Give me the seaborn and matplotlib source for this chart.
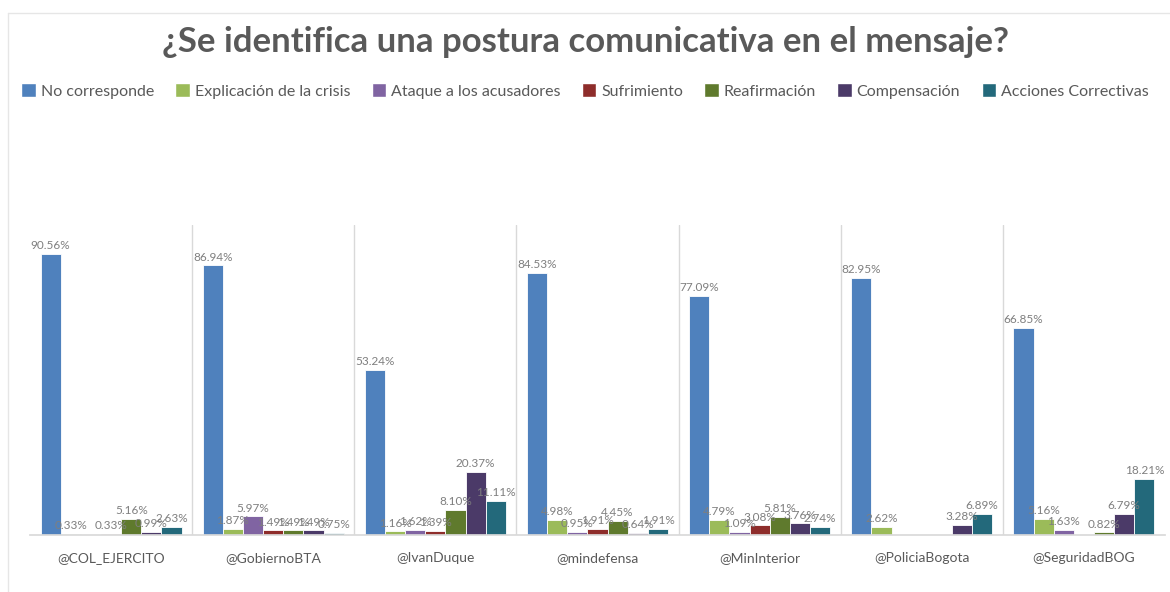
import matplotlib
matplotlib.use("Agg")
import matplotlib.pyplot as plt
from matplotlib.lines import Line2D
from matplotlib.patches import Patch
import seaborn as sns
import pandas as pd

cuentas = ["@COL_EJERCITO", "@GobiernoBTA", "@IvanDuque", "@mindefensa",
           "@MinInterior", "@PoliciaBogota", "@SeguridadBOG"]
posturas = ["No corresponde", "Explicación de la crisis", "Ataque a los acusadores",
            "Sufrimiento", "Reafirmación", "Compensación", "Acciones Correctivas"]

no_corresponde = [90.56, 86.94, 53.24, 84.53, 77.09, 82.95, 66.85]
explicacion    = [0.33, 1.87, 1.16, 4.98, 4.79, 2.62, 5.16]
ataque         = [0.00, 5.97, 1.62, 0.95, 1.09, 0.00, 1.63]
sufrimiento    = [0.33, 1.49, 1.39, 1.91, 3.08, 0.00, 0.00]
reafirmacion   = [5.16, 1.49, 8.10, 4.45, 5.81, 0.00, 0.82]
compensacion   = [0.99, 1.49, 20.37, 0.64, 3.76, 3.28, 6.79]
acciones       = [2.63, 0.75, 11.11, 1.91, 2.74, 6.89, 18.21]

series = [no_corresponde, explicacion, ataque, sufrimiento,
          reafirmacion, compensacion, acciones]
colores = ["#4F81BD", "#9BBB59", "#8064A2", "#8E2D2B", "#5F7A2D", "#4B3A68", "#23697B"]

rows = []
for p, vals in zip(posturas, series):
    for c, v in zip(cuentas, vals):
        rows.append({"cuenta": c, "postura": p, "valor": v})
df = pd.DataFrame(rows)

sns.set_theme(style="white")
plt.rcParams["font.family"] = ["Lato", "DejaVu Sans"]

fig = plt.figure(figsize=(11.7, 5.92), dpi=100)
ax = fig.add_axes([30/1170, 57/592, 1135/1170, 310/592])

sns.barplot(data=df, x="cuenta", y="valor", hue="postura", order=cuentas,
            hue_order=posturas, palette=colores, saturation=1, width=0.87,
            edgecolor="white", linewidth=0.6, ax=ax)

ax.set_ylim(0, 100)
ax.set_xlim(-0.5, len(cuentas) - 0.5)
ax.set_xlabel("")
ax.set_ylabel("")
ax.set_yticks([])
ax.tick_params(axis="x", length=0, pad=12, labelsize=10, labelcolor="#595959")
for s in ["top", "left", "right"]:
    ax.spines[s].set_visible(False)
ax.spines["bottom"].set_color("#D9D9D9")
for i in range(len(cuentas) - 1):
    ax.axvline(i + 0.5, color="#D9D9D9", lw=1, zorder=0)

for cont in ax.containers:
    labels = [f"{v:.2f}%" if v > 0 else "" for v in cont.datavalues]
    ax.bar_label(cont, labels=labels, padding=2, fontsize=8.5, color="#7F7F7F")

if ax.get_legend() is not None:
    ax.get_legend().remove()
handles = [Patch(facecolor=c, edgecolor="white", label=p) for c, p in zip(colores, posturas)]
fig.legend(handles=handles, loc="center", bbox_to_anchor=(0.5, 1 - 91/592), ncol=7,
           frameon=False, fontsize=11.5, handlelength=0.9, handleheight=0.9,
           handletextpad=0.3, columnspacing=1.35, labelcolor="#595959")

fig.text(0.5, 1 - 42/592, "¿Se identifica una postura comunicativa en el mensaje?",
         ha="center", va="center", fontsize=25, fontweight="bold", color="#595959")

fig.add_artist(Line2D([8/1170, 8/1170], [0, 1 - 13/592], color="#E6E6E6", lw=1,
                      transform=fig.transFigure))
fig.add_artist(Line2D([8/1170, 1], [1 - 13/592, 1 - 13/592], color="#E6E6E6", lw=1,
                      transform=fig.transFigure))

fig.savefig("out.png", dpi=100, facecolor="white")
